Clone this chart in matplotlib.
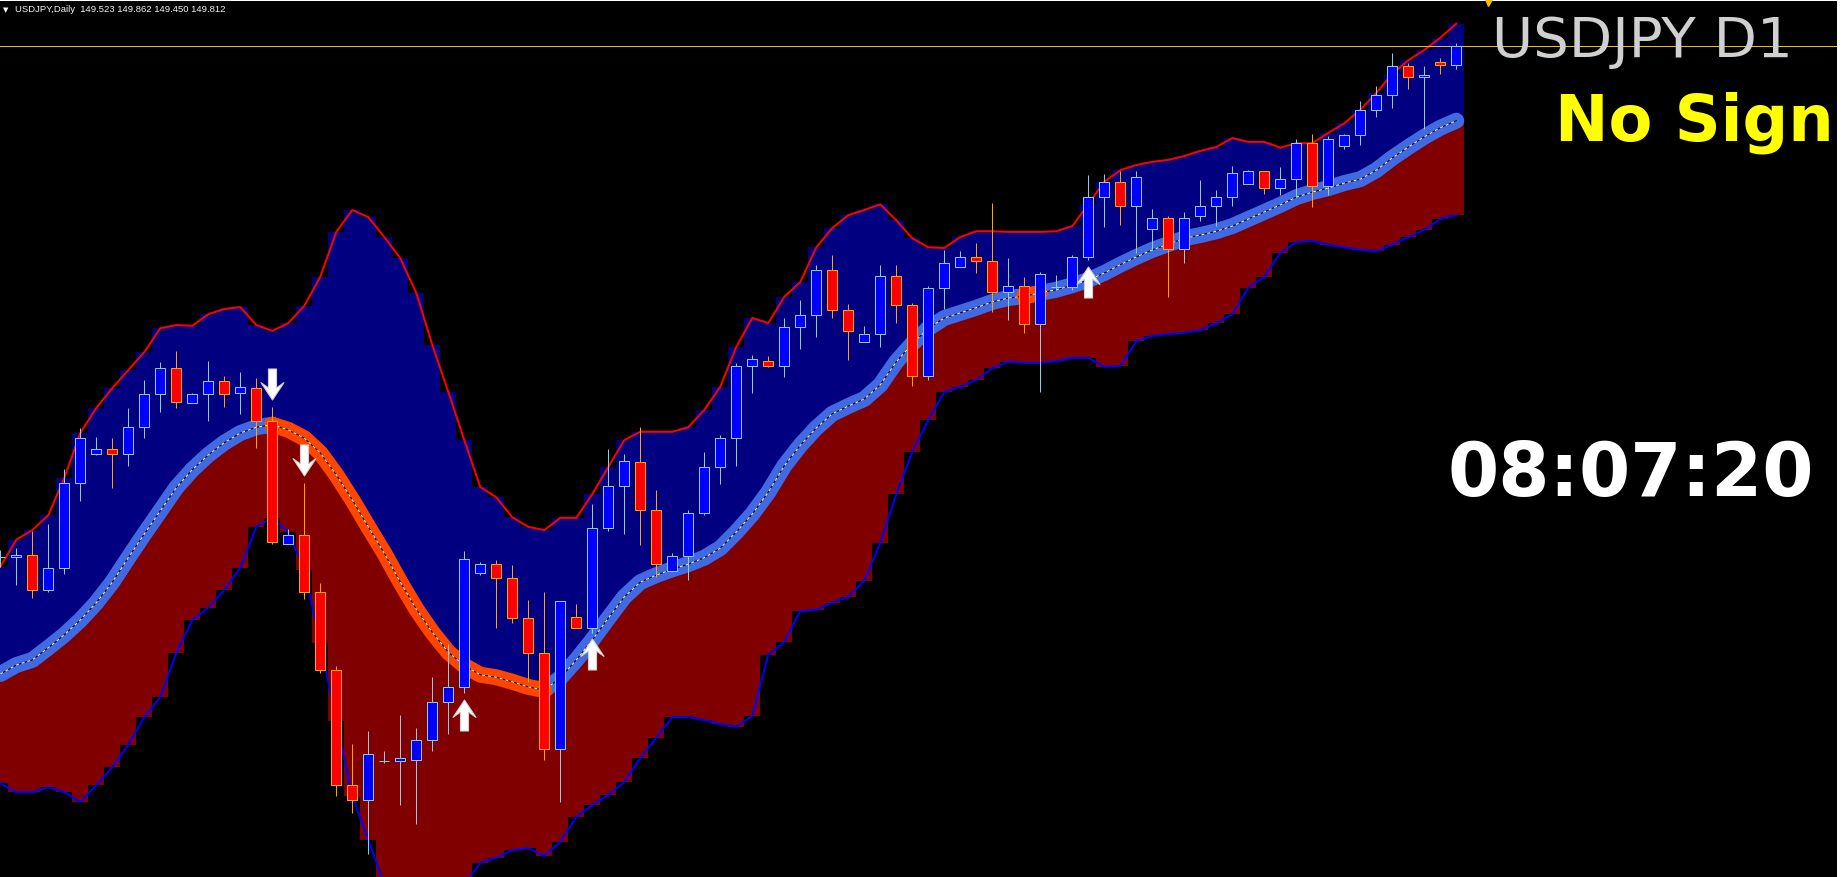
import numpy as np
import matplotlib
matplotlib.use("Agg")
import matplotlib.pyplot as plt
from matplotlib.path import Path

# ---------------- data (USDJPY daily) ----------------
opens = [141.86, 141.86, 141.90, 141.34, 141.69, 143.02, 143.47, 143.54, 143.46, 143.88,
         144.39, 144.80, 144.25, 144.39, 144.60, 144.41, 144.49, 143.98, 142.07, 142.21,
         141.31, 140.11, 138.32, 138.08, 138.68, 138.69, 138.71, 139.02, 139.60, 139.84,
         141.61, 141.75, 141.54, 140.91, 140.36, 138.87, 140.92, 140.75, 142.32, 142.96,
         143.34, 142.60, 141.64, 141.87, 142.54, 143.26, 143.72, 144.84, 144.91, 144.84,
         145.44, 145.62, 146.32, 145.70, 145.20, 145.33, 146.24, 145.78, 144.67, 146.04,
         146.38, 146.53, 146.46, 145.98, 146.08, 145.49, 146.07, 146.07, 146.53, 147.46,
         147.70, 147.33, 146.96, 147.13, 146.66, 147.16, 147.33, 147.46, 147.66, 147.86,
         147.61, 147.75, 148.31, 147.64, 148.25, 148.42, 148.81, 149.05, 149.50, 149.33,
         149.57, 149.523]
highs = [141.97, 142.00, 142.26, 142.38, 143.23, 143.87, 143.73, 143.72, 144.18, 144.62,
         144.89, 145.07, 144.41, 144.91, 144.68, 144.74, 144.64, 144.19, 142.29, 143.01,
         141.45, 140.17, 138.95, 139.15, 138.84, 139.40, 139.20, 139.99, 140.51, 141.95,
         141.78, 141.81, 141.74, 141.19, 141.32, 141.18, 141.13, 142.69, 143.54, 143.47,
         143.89, 142.90, 141.93, 142.59, 143.49, 143.76, 144.88, 145.00, 144.99, 145.58,
         145.86, 146.40, 146.56, 145.80, 145.46, 146.40, 146.40, 145.81, 146.08, 146.64,
         146.62, 146.74, 147.37, 146.52, 146.22, 146.29, 146.25, 146.56, 147.81, 147.82,
         147.87, 147.87, 147.27, 147.16, 147.23, 147.73, 147.57, 147.95, 147.88, 147.87,
         147.93, 148.36, 148.45, 148.41, 148.44, 148.96, 149.19, 149.71, 149.54, 149.50,
         149.63, 149.862]
lows = [141.70, 141.43, 141.22, 141.32, 141.60, 142.74, 143.45, 142.93, 143.28, 143.72,
        144.12, 144.18, 144.25, 143.98, 144.20, 144.08, 143.55, 142.07, 142.06, 141.21,
        140.06, 138.15, 137.88, 137.24, 138.65, 138.00, 137.71, 138.85, 139.10, 139.74,
        141.58, 140.75, 140.83, 139.92, 138.70, 138.05, 140.75, 140.68, 142.26, 142.22,
        142.05, 141.55, 141.64, 141.51, 142.52, 142.99, 143.28, 144.42, 144.81, 144.66,
        145.09, 145.29, 145.58, 144.92, 145.20, 145.13, 145.50, 144.52, 144.62, 145.72,
        146.38, 146.28, 145.67, 145.55, 145.34, 144.43, 146.02, 146.02, 146.48, 147.00,
        147.03, 146.59, 146.64, 145.90, 146.43, 147.09, 147.01, 147.33, 147.66, 147.51,
        147.49, 147.47, 147.31, 147.49, 148.21, 148.27, 148.70, 148.85, 149.14, 148.52,
        149.38, 149.450]
closes = [141.86, 141.90, 141.34, 141.69, 143.02, 143.71, 143.54, 143.46, 143.88, 144.39,
          144.80, 144.28, 144.39, 144.60, 144.40, 144.50, 143.98, 142.09, 142.21, 141.31,
          140.11, 138.32, 138.08, 138.79, 138.68, 138.73, 139.02, 139.60, 139.84, 141.83,
          141.75, 141.54, 140.91, 140.36, 138.87, 141.17, 140.75, 142.32, 142.96, 143.35,
          142.60, 141.76, 141.87, 142.54, 143.26, 143.72, 144.84, 144.94, 144.84, 145.44,
          145.63, 146.32, 145.70, 145.37, 145.33, 146.24, 145.78, 144.67, 146.04, 146.43,
          146.53, 146.46, 145.98, 146.08, 145.49, 146.26, 146.07, 146.53, 147.46, 147.70,
          147.33, 147.78, 147.13, 146.66, 147.14, 147.33, 147.46, 147.83, 147.86, 147.61,
          147.75, 148.31, 147.64, 148.36, 148.42, 148.81, 149.05, 149.50, 149.33, 149.36,
          149.52, 149.812]

# channel indicator: upper band, middle trend line, lower band
band_upper = [141.71, 142.13, 142.28, 142.51, 143.09, 143.79, 144.18, 144.49, 144.77, 145.05,
              145.42, 145.47, 145.46, 145.64, 145.72, 145.75, 145.47, 145.38, 145.50, 145.77,
              146.22, 146.92, 147.26, 147.15, 146.84, 146.51, 145.97, 145.16, 144.43, 143.68,
              142.95, 142.79, 142.48, 142.33, 142.28, 142.47, 142.47, 142.84, 143.26, 143.68,
              143.81, 143.81, 143.81, 143.88, 144.15, 144.51, 145.13, 145.58, 145.50, 145.91,
              146.14, 146.68, 146.98, 147.18, 147.26, 147.35, 147.10, 146.82, 146.68, 146.67,
              146.84, 146.93, 146.93, 146.92, 146.92, 146.92, 146.93, 147.01, 147.35, 147.70,
              147.88, 147.96, 148.01, 148.04, 148.10, 148.18, 148.24, 148.38, 148.32, 148.32,
              148.23, 148.30, 148.30, 148.46, 148.61, 148.82, 149.08, 149.38, 149.59, 149.75,
              149.94, 150.16]
band_mid = [140.04, 140.18, 140.26, 140.45, 140.65, 140.88, 141.15, 141.47, 141.85, 142.22,
            142.58, 142.94, 143.22, 143.45, 143.64, 143.79, 143.88, 143.92, 143.84, 143.71,
            143.48, 143.14, 142.75, 142.33, 141.92, 141.47, 141.05, 140.69, 140.38, 140.17,
            140.03, 139.99, 139.92, 139.84, 139.79, 139.98, 140.26, 140.57, 140.91, 141.24,
            141.47, 141.58, 141.67, 141.75, 141.85, 142.00, 142.25, 142.53, 142.87, 143.28,
            143.60, 143.87, 144.09, 144.21, 144.32, 144.54, 144.90, 145.18, 145.42, 145.58,
            145.66, 145.74, 145.83, 145.89, 145.92, 145.97, 146.02, 146.09, 146.17, 146.28,
            146.41, 146.53, 146.64, 146.73, 146.82, 146.87, 146.93, 147.01, 147.12, 147.23,
            147.34, 147.46, 147.54, 147.60, 147.68, 147.74, 147.88, 148.07, 148.24, 148.40,
            148.54, 148.65]
band_lower = [138.34, 138.20, 138.20, 138.28, 138.20, 138.05, 138.31, 138.59, 138.94, 139.37,
              139.68, 140.37, 140.88, 141.07, 141.35, 141.69, 142.33, 142.47, 142.25, 141.66,
              140.52, 139.31, 138.14, 137.46, 136.77, 136.52, 136.45, 136.52, 136.68, 136.77,
              137.10, 137.18, 137.30, 137.33, 137.21, 137.43, 137.82, 138.00, 138.16, 138.36,
              138.73, 139.05, 139.37, 139.37, 139.32, 139.26, 139.22, 139.39, 140.34, 140.54,
              141.02, 141.04, 141.15, 141.24, 141.49, 142.08, 142.84, 143.50, 143.99, 144.43,
              144.51, 144.62, 144.80, 144.90, 144.88, 144.88, 144.91, 144.96, 144.96, 144.82,
              144.83, 145.22, 145.30, 145.33, 145.35, 145.39, 145.50, 145.64, 146.05, 146.22,
              146.59, 146.76, 146.78, 146.72, 146.68, 146.64, 146.62, 146.72, 146.84, 146.95,
              147.12, 147.18]
# trend segments of the middle line (bar index ranges)
trend_up_segments = [(0, 17), (34, 91)]
trend_down_segments = [(17, 34), (64, 65)]

# signal arrows
sig_up_idx = [29, 37, 68]
sig_up_price = [139.40, 140.35, 146.14]
sig_dn_idx = [17, 19]
sig_dn_price = [144.55, 143.37]

symbol_title = "USDJPY D1"
status_text = "No Sign"
clock_text = "08:07:20"
header_text = "USDJPY,Daily  149.523 149.862 149.450 149.812"

# ---------------- figure ----------------
W, H = 1848, 877
DPI = 100
PX = 72.0 / DPI  # points per pixel

fig = plt.figure(figsize=(W / DPI, H / DPI), dpi=DPI, facecolor="white")
ax_right = 1837
ax_top = 1
ax = fig.add_axes([0, 0, ax_right / W, (H - ax_top) / H])
ax.set_facecolor("black")
for s in ax.spines.values():
    s.set_visible(False)
ax.set_xticks([])
ax.set_yticks([])

bar_px = 16.0
x0 = -0.3 / bar_px
ax.set_xlim(x0, x0 + ax_right / bar_px)
ax.set_ylim(136.882, 150.528 - 0.01556 * ax_top)

n = len(closes)
idx = np.arange(n)
o = np.array(opens); h = np.array(highs); l = np.array(lows); c = np.array(closes)
up_b = np.array(band_upper); mid_b = np.array(band_mid); lo_b = np.array(band_lower)

# histogram fills
ax.bar(idx, up_b - mid_b, bottom=mid_b, width=1.0, color="#000080", linewidth=0,
       antialiased=False, zorder=1)
ax.bar(idx, mid_b - lo_b, bottom=lo_b, width=1.0, color="#800000", linewidth=0,
       antialiased=False, zorder=1)

# band lines
ax.plot(idx, up_b, color="#FF0000", lw=2 * PX, zorder=3)
ax.plot(idx, lo_b, color="#0000FF", lw=2 * PX, zorder=3)

# middle trend line
for a, b in trend_up_segments:
    ax.plot(idx[a:b + 1], mid_b[a:b + 1], color="#4169E1", lw=16 * PX,
            solid_capstyle="round", solid_joinstyle="round", zorder=4)
for a, b in trend_down_segments:
    ax.plot(idx[a:b + 1], mid_b[a:b + 1], color="#FF4500", lw=16 * PX,
            solid_capstyle="round", solid_joinstyle="round", zorder=5)
ax.plot(idx, mid_b, color="black", lw=1 * PX, zorder=6)
ax.plot(idx, mid_b, color="white", lw=1 * PX, dashes=(3, 3), zorder=6)

# candles
bull = c >= o
wick_col = np.where(bull, "#87CEEB", "#FFA500")
body_col = np.where(bull, "#0000FF", "#FF0000")
ax.vlines(idx, l, h, colors=wick_col, lw=1 * PX, zorder=8)
body_bottom = np.minimum(o, c)
body_h = np.abs(c - o)
ax.bar(idx, body_h, bottom=body_bottom, width=10 / bar_px, color=body_col,
       edgecolor=wick_col, linewidth=1 * PX, zorder=9)

# bid line
ax.axhline(c[-1], color="#F2BE00", lw=1 * PX, zorder=7)

# arrows
up_arrow = Path([(0, 0.5), (0.37, -0.06), (0.13, 0.11), (0.13, -0.5), (-0.13, -0.5),
                 (-0.13, 0.11), (-0.37, -0.06), (0, 0.5)],
                [Path.MOVETO] + [Path.LINETO] * 6 + [Path.CLOSEPOLY])
dn_arrow = Path(up_arrow.vertices * np.array([1, -1]), up_arrow.codes)
ax.plot(sig_up_idx, sig_up_price, linestyle="none", marker=up_arrow, markersize=31 * PX,
        markerfacecolor="white", markeredgecolor="#D0D0D0", markeredgewidth=0.8, zorder=12)
ax.plot(sig_dn_idx, sig_dn_price, linestyle="none", marker=dn_arrow, markersize=31 * PX,
        markerfacecolor="white", markeredgecolor="#D0D0D0", markeredgewidth=0.8, zorder=12)

# chart shift marker at top
ax.plot([(1488 - 0.3) / bar_px], [150.528 - 0.01556 * ax_top], linestyle="none", marker="v",
        markersize=9 * PX, color="#F2BE00", zorder=12, clip_on=False)


def fxy(x, y):
    return x / W, 1 - y / H


fig.text(*fxy(3, 12), "\u25BC", color="white", fontsize=5, family="DejaVu Sans",
         va="baseline", ha="left")
fig.text(*fxy(15, 12), header_text, color="#F4F4F4", fontsize=6.8,
         family="Liberation Sans", va="baseline", ha="left")
fig.text(*fxy(1492, 57), symbol_title, color="#D0D0D0", fontsize=40.5,
         family="DejaVu Sans", va="baseline", ha="left")
fig.text(*fxy(1834, 140), status_text, color="#FFFF00", fontsize=46,
         family="DejaVu Sans", weight="bold", va="baseline", ha="right")
fig.text(*fxy(1814, 496), clock_text, color="white", fontsize=53,
         family="DejaVu Sans", weight="bold", va="baseline", ha="right")

fig.savefig("out.png", dpi=DPI, facecolor=fig.get_facecolor())
